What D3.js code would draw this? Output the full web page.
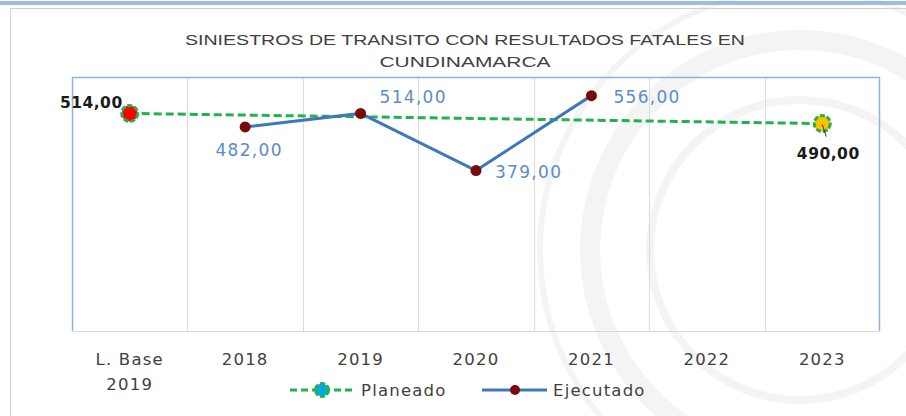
<!DOCTYPE html>
<html><head><meta charset="utf-8">
<script src="https://cdn.jsdelivr.net/npm/d3@7"></script>
<style>body{margin:0;background:#fff}svg{display:block}</style>
</head><body>
<svg id="c" width="906" height="416"></svg>
<script>
const categories = ["L. Base\n2019","2018","2019","2020","2021","2022","2023"];
const planeado = [514,null,null,null,null,null,490];
const ejecutado = [null,482,514,379,556,null,null];
const planeadoFill = ["#ff0000",null,null,null,null,null,"#ffc000"];
const titleLines = ["SINIESTROS DE TRANSITO CON RESULTADOS FATALES EN","CUNDINAMARCA"];
const seriesNames = ["Planeado","Ejecutado"];
// label placement (style): [dx, dy, anchor]
const ejecLabelPos = [null,[4,29,"middle"],[19,-10,"start"],[19,7.5,"start"],[22,7,"start"],null,null];
const planLabelPos = [[-7,-5,"end"],null,null,null,null,null,[6,35,"middle"]];

const svg = d3.select("#c");
const W=906,H=416;
const L=72,R=880,T=77,B=331;
const green="#22b14c", blue="#3f77bb", lblBlue="#5b8cc8", dred="#7a0a0a";

svg.append("rect").attr("width",W).attr("height",H).attr("fill","#fff");
// faint watermark
const wm = svg.append("g").attr("fill","none").attr("stroke","#f4f4f4");
[[800,250,210,20],[800,250,150,8],[800,250,260,6]].forEach(([cx,cy,r,w])=>{
  wm.append("circle").attr("cx",cx).attr("cy",cy).attr("r",r).attr("stroke-width",w);
});
svg.append("rect").attr("x",0).attr("y",1).attr("width",W).attr("height",4).attr("fill","#9dbbe3");
svg.append("path").attr("d",`M10.5,${H}V8.5H${W}`).attr("fill","none").attr("stroke","#d0d0d0").attr("stroke-width",1);

const x = d3.scaleBand().domain(categories).range([L,R]).padding(0);
const bw = x.bandwidth();
const cx = c => x(c)+bw/2;
const y = d3.scaleLinear().domain([0,600]).range([B,T]);

// gridlines
svg.append("g").selectAll("line").data(categories.slice(1)).join("line")
  .attr("x1",d=>Math.round(x(d))+0.5).attr("x2",d=>Math.round(x(d))+0.5)
  .attr("y1",T).attr("y2",B).attr("stroke","#dcdcdc").attr("stroke-width",1);
// plot border
svg.append("path").attr("d",`M${L+0.5},${B}V${T+0.5}H${R-0.5}V${B}`).attr("fill","none").attr("stroke","#8fb1e0").attr("stroke-width",1.5);
svg.append("line").attr("x1",L).attr("x2",R).attr("y1",B+0.5).attr("y2",B+0.5).attr("stroke","#d9d9d9");

// title
const tl = [[560,45],[171,67]];
svg.append("g").selectAll("text").data(titleLines).join("text")
  .attr("x",465).attr("y",(d,i)=>tl[i][1]).attr("text-anchor","middle")
  .attr("textLength",(d,i)=>tl[i][0]).attr("lengthAdjust","spacingAndGlyphs")
  .attr("font-family","Liberation Sans, Arial, sans-serif").attr("font-size",15).attr("fill","#404040")
  .text(d=>d);

// x axis
const ax = svg.append("g").attr("transform",`translate(0,${B})`)
  .call(d3.axisBottom(x).tickSize(0).tickFormat(""));
ax.select(".domain").remove();
ax.selectAll(".tick text").remove();
ax.selectAll(".tick").each(function(d){
  const t = d3.select(this).append("text").attr("y",34).attr("text-anchor","middle")
    .attr("font-family","DejaVu Sans, sans-serif").attr("font-size",16.5).attr("fill","#404040")
    .attr("letter-spacing",1.2);
  d.split("\n").forEach((s,i)=>t.append("tspan").attr("x",0).attr("dy",i?25:0).text(s));
});

// planeado line
const pData = categories.map((c,i)=>({c,v:planeado[i],f:planeadoFill[i],lp:planLabelPos[i]})).filter(d=>d.v!=null);
const line = d3.line().x(d=>cx(d.c)).y(d=>y(d.v));
svg.append("path").datum(pData).attr("d",line).attr("fill","none").attr("stroke",green)
  .attr("stroke-width",3).attr("stroke-dasharray","8,4");
// ejecutado line
const eData = categories.map((c,i)=>({c,v:ejecutado[i],lp:ejecLabelPos[i]})).filter(d=>d.v!=null);
svg.append("path").datum(eData).attr("d",line).attr("fill","none").attr("stroke",blue).attr("stroke-width",3);

// planeado markers
svg.append("g").selectAll("circle").data(pData).join("circle")
  .attr("cx",d=>cx(d.c)).attr("cy",d=>y(d.v)).attr("r",8)
  .attr("fill",d=>d.f).attr("stroke",green).attr("stroke-width",3).attr("stroke-dasharray","5,2");
const lastP = pData[pData.length-1];
svg.append("line").attr("x1",cx(lastP.c)).attr("y1",y(lastP.v)+1).attr("x2",cx(lastP.c)+4).attr("y2",y(lastP.v)+13)
  .attr("stroke","#333").attr("stroke-width",1);
// ejecutado markers
svg.append("g").selectAll("circle").data(eData).join("circle")
  .attr("cx",d=>cx(d.c)).attr("cy",d=>y(d.v)).attr("r",5.5).attr("fill",dred);

const fmt = v => d3.format(".2f")(v).replace(".",",");
svg.append("g").selectAll("text").data(eData).join("text")
  .attr("x",d=>cx(d.c)+d.lp[0]).attr("y",d=>y(d.v)+d.lp[1]).attr("text-anchor",d=>d.lp[2])
  .attr("font-family","DejaVu Sans, sans-serif").attr("font-size",17).attr("letter-spacing",1.3)
  .attr("fill",lblBlue).text(d=>fmt(d.v));
svg.append("g").selectAll("text").data(pData).join("text")
  .attr("x",d=>cx(d.c)+d.lp[0]).attr("y",d=>y(d.v)+d.lp[1]).attr("text-anchor",d=>d.lp[2])
  .attr("font-family","DejaVu Sans, sans-serif").attr("font-size",15.5).attr("font-weight","bold").attr("letter-spacing",0.5)
  .attr("fill","#1a1a1a").text(d=>fmt(d.v));

// legend
const lg = svg.append("g").attr("font-family","DejaVu Sans, sans-serif").attr("font-size",16.5).attr("fill","#404040").attr("letter-spacing",1.2);
lg.append("line").attr("x1",290).attr("x2",356).attr("y1",390).attr("y2",390).attr("stroke",green).attr("stroke-width",3).attr("stroke-dasharray","7,4");
lg.append("circle").attr("cx",322).attr("cy",390).attr("r",6.5).attr("fill","#00a8e8").attr("stroke",green).attr("stroke-width",3).attr("stroke-dasharray","5,2");
lg.append("text").attr("x",361).attr("y",396).text(seriesNames[0]);
lg.append("line").attr("x1",482).attr("x2",547).attr("y1",390).attr("y2",390).attr("stroke",blue).attr("stroke-width",3);
lg.append("circle").attr("cx",515).attr("cy",390).attr("r",5).attr("fill",dred);
lg.append("text").attr("x",553).attr("y",396).text(seriesNames[1]);
</script>
</body></html>
